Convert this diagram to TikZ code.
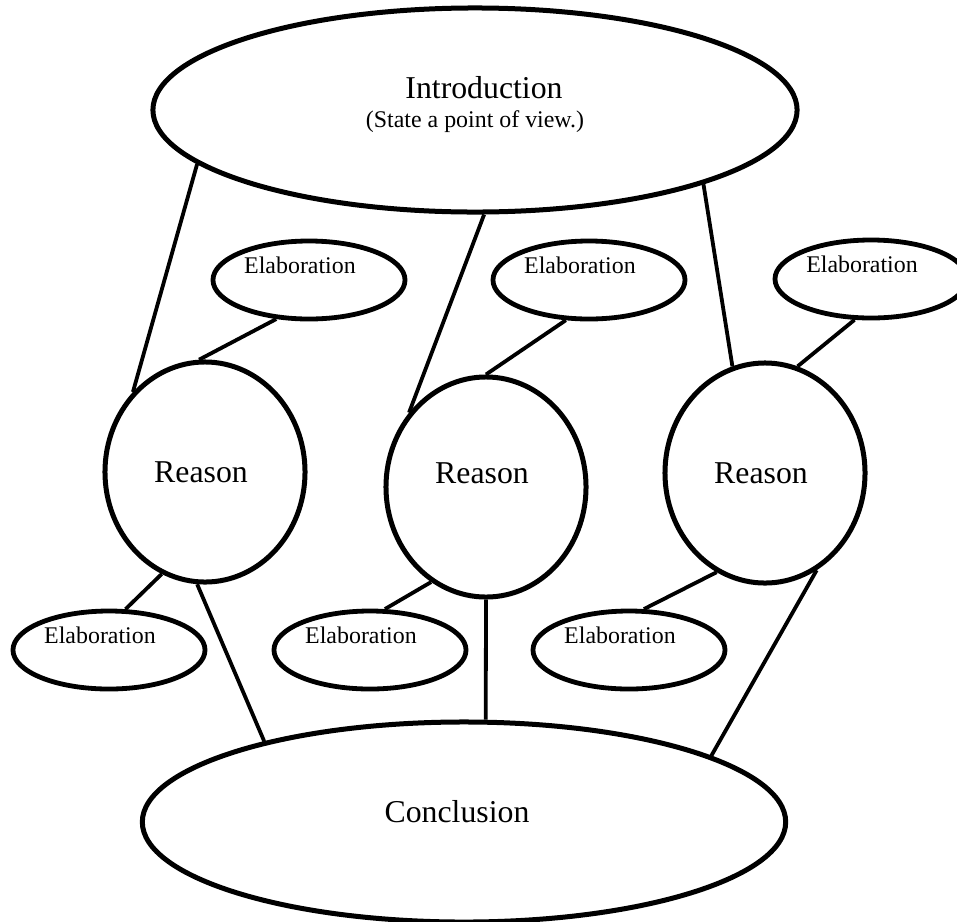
\documentclass[tikz,border=0pt]{standalone}
\usepackage{fontspec}
\setmainfont{Liberation Serif}
\usepackage{xcolor}
\usepackage{tikz}
\usetikzlibrary{shapes.geometric}
\definecolor{ink}{HTML}{000000}
\tikzset{
  bigoval/.style = {ellipse, draw=ink, line width=0.125cm, fill=white, inner sep=0pt,
                    align=center, font=\fontsize{22.6}{27}\selectfont},
  reason/.style  = {ellipse, draw=ink, line width=0.125cm, fill=white, inner sep=0pt,
                    minimum width=5cm, minimum height=5.5cm,
                    execute at end node=\hspace{0.2cm},
                    font=\fontsize{22.6}{27}\selectfont},
  elab/.style    = {ellipse, draw=ink, line width=0.12cm, fill=white, inner sep=0pt,
                    minimum width=4.8cm, minimum height=1.95cm,
                    text height=0.4cm, text depth=0.75cm,
                    execute at end node=\hspace{0.45cm},
                    font=\fontsize{17}{20.6}\selectfont},
  link/.style    = {draw=ink, line width=0.095cm},
}

\begin{document}
\begin{tikzpicture}[x=0.025cm, y=-0.025cm]
  \useasboundingbox (0,0) rectangle (957,921);

  % top and bottom ovals
  \node[bigoval, minimum width=16.1cm, minimum height=5.1cm,
        text height=1.3cm, text depth=0.45cm, font=\fontsize{17}{20.6}\selectfont]
    (intro) at (475,110)
    {\hspace*{0.45cm}{\fontsize{22.6}{27}\selectfont Introduction}\\(State a point of view.)};
  \node[bigoval, minimum width=16.08cm, minimum height=5cm,
        text height=0.5cm, text depth=0.5cm] (concl) at (464,822)
    {Conclusion\hspace{0.35cm}};

  % reasons
  \node[reason] (r1) at (205,472) {Reason};
  \node[reason, text height=0.5cm, text depth=0.7cm] (r2) at (486,487) {Reason};
  \node[reason] (r3) at (765,473) {Reason};

  % elaborations
  \node[elab] (te1) at (309,280) {Elaboration};
  \node[elab] (te2) at (589,280) {Elaboration};
  \node[elab] (te3) at (871,279) {Elaboration};
  \node[elab] (be1) at (109,650) {Elaboration};
  \node[elab] (be2) at (370,650) {Elaboration};
  \node[elab] (be3) at (629,650) {Elaboration};

  % links
  \draw[link] (intro.191) -- (r1.132);
  \draw[link] (intro.275) -- (r2.136);
  \draw[link] (intro.342) -- (r3.107);
  \draw[link] (te1.230) -- (r1.93);
  \draw[link] (te2.240) -- (r2.90);
  \draw[link] (te3.248) -- (r3.73);
  \draw[link] (r1.247) -- (be1.68);
  \draw[link] (r2.240) -- (be2.70);
  \draw[link] (r3.244) -- (be3.70);
  \draw[link] (r1.266) -- (concl.158);
  \draw[link] (r2.270) -- (concl.78);
  \draw[link] (r3.298) -- (concl.15);
\end{tikzpicture}
\end{document}
